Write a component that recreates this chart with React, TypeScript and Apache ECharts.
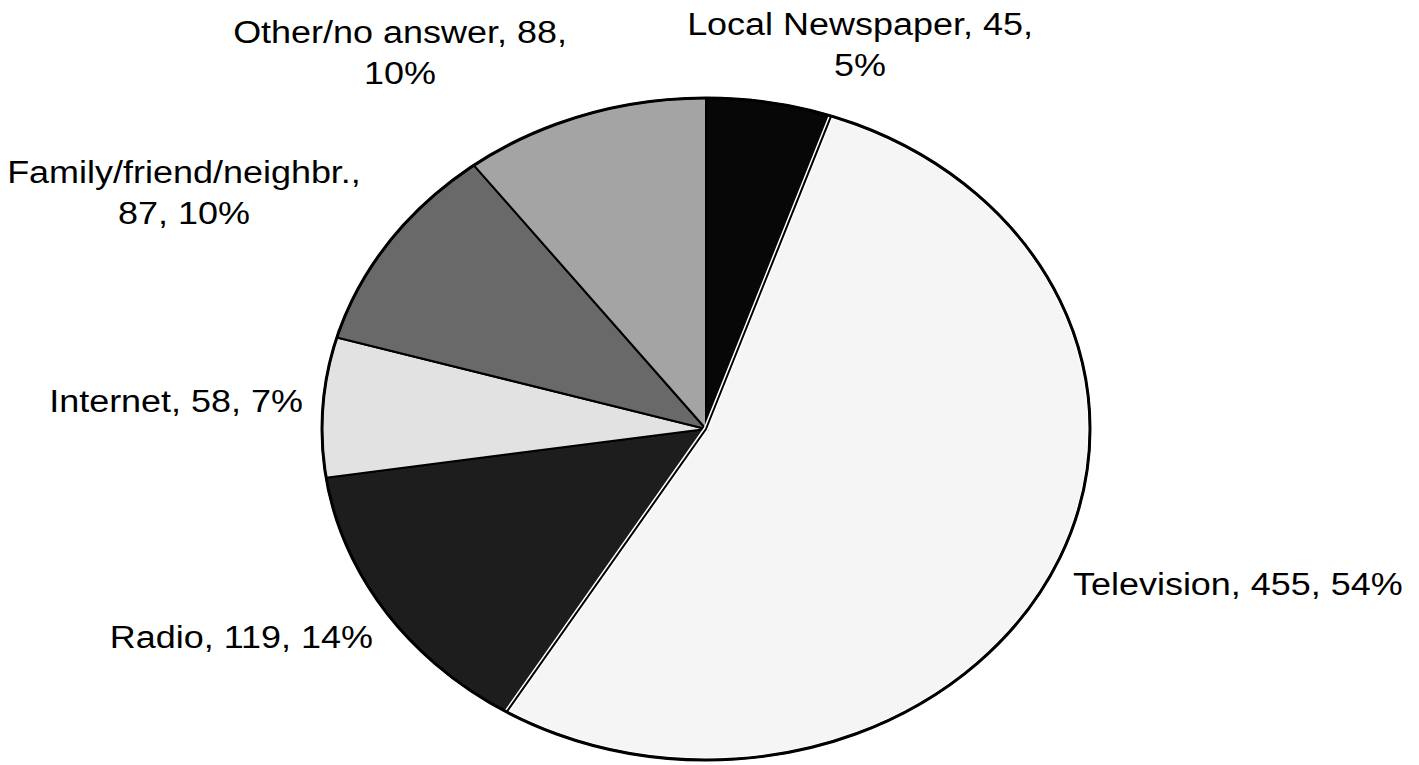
import React, { useEffect, useRef } from "react";
import * as echarts from "echarts";

// ---- data ----
const CATEGORIES = [
  "Local Newspaper",
  "Television",
  "Radio",
  "Internet",
  "Family/friend/neighbr.",
  "Other/no answer",
];
const VALUES = [45, 455, 119, 58, 87, 88];
const PERCENTS = [5, 54, 14, 7, 10, 10];

// ---- styling / layout ----
const COLORS = ["#070707", "#f5f5f5", "#1d1d1d", "#e2e2e2", "#696969", "#a4a4a4"];
const HALO_INDEX = 1;
const CX = 706;
const CY = 429;
const RX = 384;
const RY = 331;
const FONT_SIZE = 31;
const TEXT_STRETCH = 1.16;
// label anchor, alignment and where the text wraps (after name / after value / none)
const LABEL_LAYOUT = [
  { x: 860, y: 45, align: "center", wrap: "value" },
  { x: 1073, y: 584, align: "left", wrap: "none" },
  { x: 373, y: 637, align: "right", wrap: "none" },
  { x: 303, y: 401, align: "right", wrap: "none" },
  { x: 184, y: 193, align: "center", wrap: "name" },
  { x: 400, y: 53, align: "center", wrap: "value" },
];

function labelText(i: number): string {
  const w = LABEL_LAYOUT[i].wrap;
  const n = CATEGORIES[i];
  const v = VALUES[i];
  const p = PERCENTS[i] + "%";
  if (w === "name") return `${n},\n${v}, ${p}`;
  if (w === "value") return `${n}, ${v},\n${p}`;
  return `${n}, ${v}, ${p}`;
}

export default function App() {
  const ref = useRef<HTMLDivElement>(null);

  useEffect(() => {
    document.body.style.margin = "0";
    const chart = echarts.init(ref.current!, null, { renderer: "svg" });
    const total = VALUES.reduce((a, b) => a + b, 0);
    const starts: number[] = [];
    let acc = 0;
    for (const v of VALUES) {
      starts.push(acc);
      acc += v;
    }

    const renderItem = (params: any, api: any) => {
      const i = params.dataIndex;
      const v = api.value(0);
      const t0 = (starts[i] / total) * Math.PI * 2;
      const t1 = ((starts[i] + v) / total) * Math.PI * 2;
      const pts: number[][] = [[CX, CY]];
      const n = Math.max(2, Math.ceil((t1 - t0) / (Math.PI / 720)));
      for (let k = 0; k <= n; k++) {
        const t = t0 + ((t1 - t0) * k) / n;
        pts.push([CX + RX * Math.sin(t), CY - RY * Math.cos(t)]);
      }
      const children: any[] = [
        {
          type: "polygon",
          shape: { points: pts },
          style: { fill: COLORS[i], stroke: "#000", lineWidth: 2, lineJoin: "miter" },
          z2: 0,
        },
      ];
      if (i === HALO_INDEX) {
        children.push({
          type: "polygon",
          shape: { points: pts },
          style: { fill: "none", stroke: "#fff", lineWidth: 5, lineJoin: "miter" },
          z2: 1,
        });
        children.push({
          type: "polygon",
          shape: { points: pts },
          style: { fill: "none", stroke: "#000", lineWidth: 2, lineJoin: "miter" },
          z2: 2,
        });
      }
      if (i === VALUES.length - 1) {
        children.push({
          type: "ellipse",
          shape: { cx: CX, cy: CY, rx: RX, ry: RY },
          style: { fill: "none", stroke: "#000", lineWidth: 3 },
          z2: 3,
        });
      }
      const L = LABEL_LAYOUT[i];
      children.push({
        type: "text",
        x: L.x,
        y: L.y,
        scaleX: TEXT_STRETCH,
        z2: 5,
        style: {
          x: 0,
          y: 0,
          text: labelText(i),
          fill: "#000",
          fontSize: FONT_SIZE,
          fontFamily: "'Liberation Sans', Arial, sans-serif",
          align: L.align,
          verticalAlign: "middle",
          lineHeight: 41,
        },
      });
      return { type: "group", children };
    };

    chart.setOption({
      animation: false,
      backgroundColor: "#fff",
      series: [
        {
          type: "custom",
          coordinateSystem: "none",
          silent: true,
          renderItem,
          data: VALUES.map((v) => [v]),
        },
      ],
    });
    return () => chart.dispose();
  }, []);

  return (
    <div
      ref={ref}
      style={{ position: "absolute", left: 0, top: 0, width: 1419, height: 765 }}
    />
  );
}
